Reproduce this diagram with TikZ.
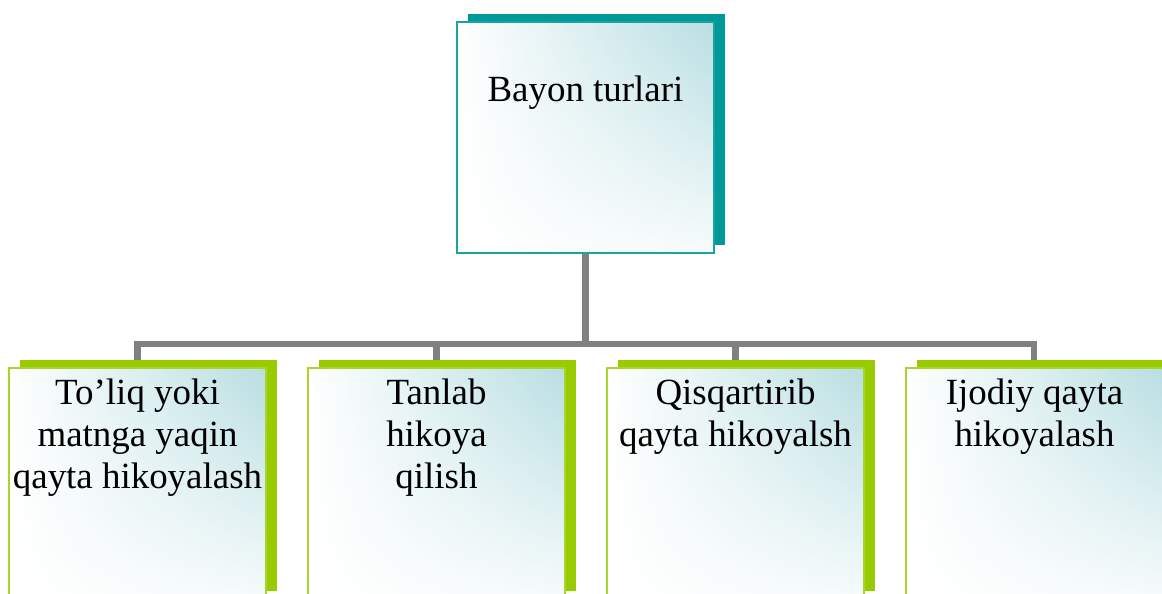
\documentclass[tikz,border=0pt]{standalone}
\usepackage{fontspec}
\setmainfont{Liberation Serif}
\usetikzlibrary{shadows,shadings,backgrounds}
\definecolor{shadowteal}{HTML}{009999}
\definecolor{lineteal}{HTML}{1AA3A3}
\definecolor{shadowgreen}{HTML}{99CC00}
\definecolor{linegreen}{HTML}{A8D42C}
\definecolor{fillteal}{HTML}{B8DEE2}
\definecolor{linkgray}{HTML}{808080}
\begin{document}
\begin{tikzpicture}[x=0.01cm,y=-0.01cm,
	box/.style={shade,upper left=white,upper right=fillteal,lower left=white,lower right=fillteal!12,
		inner sep=0,outer sep=0,minimum width=2.57cm,minimum height=2.31cm},
	topbox/.style={box,draw=lineteal,line width=0.02cm,
		general shadow={fill=shadowteal,shadow xshift=0.11cm,shadow yshift=0.08cm}},
	subbox/.style={box,draw=linegreen,line width=0.015cm,
		general shadow={fill=shadowgreen,shadow xshift=0.11cm,shadow yshift=0.08cm}},
	txt/.style={font=\fontsize{10.5}{12}\selectfont,align=center,inner sep=0,anchor=north},
	link/.style={draw=linkgray,line width=0.06cm}]
			%page
			\useasboundingbox (0,0) rectangle (1162,594);
			\clip (0,0) rectangle (1162,594);
			
			%top box
			\node[topbox] (top) at (585.5,137.5){};
			\node[txt] (ttop) at (585.5,75){Bayon turlari};
			
			%lower boxes
			\foreach \i/\t in {0/{To’liq yoki\\matnga yaqin\\qayta hikoyalash}, 1/{Tanlab\\hikoya\\qilish}, 2/{Qisqartirib\\qayta hikoyalsh}, 3/{Ijodiy qayta\\hikoyalash}}{
				\node[subbox] (b\i) at (137.5+299*\i, 483.5){};
				\node[txt] (t\i) at (137.5+299*\i, 378){\t};
			}
			
			%connectors
			\coordinate (bus) at (0,344);
			\begin{pgfonlayer}{background}
				\draw[link] (top.south) -- (top.south |- bus);
				\draw[link] (b0.north) -- (b0.north |- bus) -- (b3.north |- bus) -- (b3.north);
				\draw[link] (b1.north) -- (b1.north |- bus);
				\draw[link] (b2.north) -- (b2.north |- bus);
			\end{pgfonlayer}
		\end{tikzpicture}
\end{document}
